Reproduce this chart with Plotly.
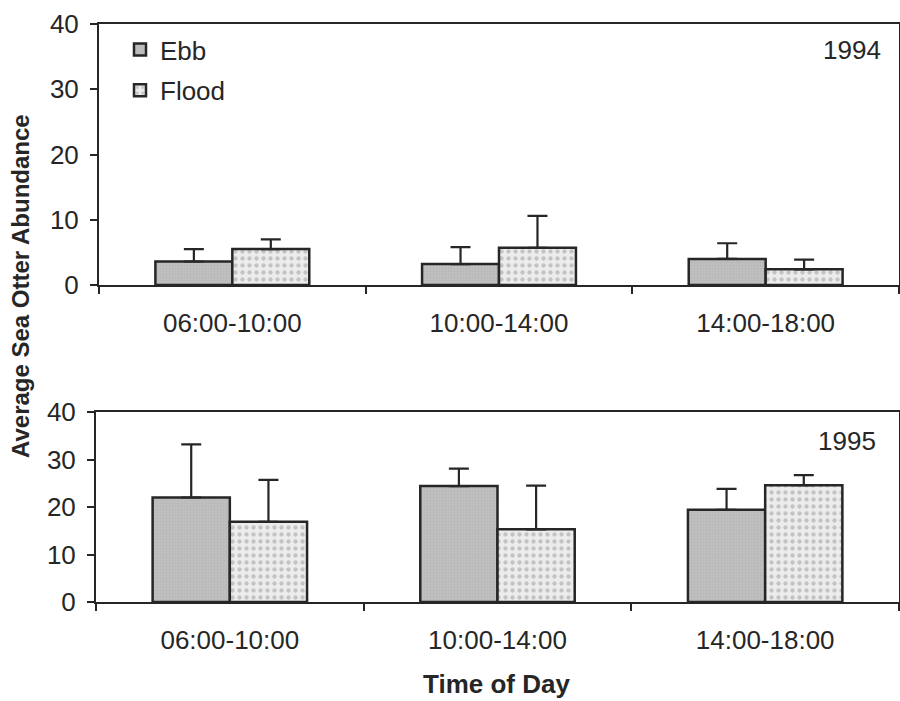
import plotly.graph_objects as go

# Time-of-day bins
periods = ["06:00-10:00", "10:00-14:00", "14:00-18:00"]

# 1994 mean abundance and upper error
ebb_1994 = [3.6, 3.2, 4.0]
ebb_1994_err = [1.9, 2.6, 2.4]
flood_1994 = [5.5, 5.7, 2.4]
flood_1994_err = [1.5, 4.9, 1.5]

# 1995 mean abundance and upper error
ebb_1995 = [22.0, 24.4, 19.4]
ebb_1995_err = [11.2, 3.7, 4.4]
flood_1995 = [16.9, 15.3, 24.6]
flood_1995_err = [8.8, 9.2, 2.1]

FONT = "Liberation Sans, Arial, sans-serif"
INK = "#262626"

ebb_pattern = dict(shape=".", bgcolor="#bfbfbf", fgcolor="#aeaeae", size=3, solidity=0.3)
flood_pattern = dict(shape=".", bgcolor="#ececec", fgcolor="#9a9a9a", size=7, solidity=0.3)
outline = dict(color=INK, width=2.5)


def err(vals):
    return dict(type="data", array=vals, arrayminus=[0] * len(vals), symmetric=False,
                thickness=2.2, width=10, color=INK)


fig = go.Figure()

fig.add_trace(go.Bar(x=periods, y=ebb_1994, name="Ebb", error_y=err(ebb_1994_err),
                     marker=dict(color="#bfbfbf", pattern=ebb_pattern, line=outline),
                     xaxis="x", yaxis="y", legendgroup="ebb"))
fig.add_trace(go.Bar(x=periods, y=flood_1994, name="Flood", error_y=err(flood_1994_err),
                     marker=dict(color="#ececec", pattern=flood_pattern, line=outline),
                     xaxis="x", yaxis="y", legendgroup="flood"))
fig.add_trace(go.Bar(x=periods, y=ebb_1995, name="Ebb", error_y=err(ebb_1995_err),
                     marker=dict(color="#bfbfbf", pattern=ebb_pattern, line=outline),
                     xaxis="x2", yaxis="y2", showlegend=False))
fig.add_trace(go.Bar(x=periods, y=flood_1995, name="Flood", error_y=err(flood_1995_err),
                     marker=dict(color="#ececec", pattern=flood_pattern, line=outline),
                     xaxis="x2", yaxis="y2", showlegend=False))

W, H = 900, 701

xcommon = dict(type="category", showline=True, linecolor=INK, linewidth=2, mirror=True,
               ticks="outside", tickson="boundaries", ticklen=7, tickwidth=1.5, tickcolor=INK,
               tickfont=dict(family=FONT, size=26, color=INK), ticklabelstandoff=14,
               showgrid=False, zeroline=False, fixedrange=True)
ycommon = dict(range=[0, 40], dtick=10, showline=True, linecolor=INK, linewidth=2, mirror=True,
               ticks="outside", ticklen=7, tickwidth=1.5, tickcolor=INK,
               tickfont=dict(family=FONT, size=26, color=INK), ticklabelstandoff=6,
               showgrid=False, zeroline=False, fixedrange=True)

fig.update_layout(
    width=W, height=H,
    margin=dict(l=0, r=0, t=0, b=0, autoexpand=False),
    paper_bgcolor="white", plot_bgcolor="white",
    barmode="group", bargap=0.423, bargroupgap=0,
    font=dict(family=FONT, color=INK),
    xaxis=dict(xcommon, domain=[99 / W, 899 / W], anchor="y"),
    yaxis=dict(ycommon, domain=[1 - 285 / H, 1 - 24 / H], anchor="x"),
    xaxis2=dict(xcommon, domain=[96 / W, 899 / W], anchor="y2"),
    yaxis2=dict(ycommon, domain=[1 - 602 / H, 1 - 412 / H], anchor="x2"),
    legend=dict(x=120 / W, y=1 - 26 / H, xanchor="left", yanchor="top",
                font=dict(family=FONT, size=26, color=INK), bgcolor="rgba(0,0,0,0)",
                traceorder="grouped", tracegroupgap=4, itemwidth=30),
    annotations=[
        dict(text="1994", x=883 / W, y=1 - 50 / H, xref="paper", yref="paper",
             xanchor="right", yanchor="middle", showarrow=False,
             font=dict(family=FONT, size=26, color=INK)),
        dict(text="1995", x=878 / W, y=1 - 441 / H, xref="paper", yref="paper",
             xanchor="right", yanchor="middle", showarrow=False,
             font=dict(family=FONT, size=26, color=INK)),
        dict(text="<b>Average Sea Otter Abundance</b>", x=20 / W, y=1 - 286 / H,
             xref="paper", yref="paper", xanchor="center", yanchor="middle",
             textangle=-90, showarrow=False, font=dict(family=FONT, size=24, color=INK)),
        dict(text="<b>Time of Day</b>", x=497 / W, y=0, xref="paper", yref="paper",
             xanchor="center", yanchor="bottom", showarrow=False,
             font=dict(family=FONT, size=26, color=INK)),
    ],
)

fig.write_html("out.html")
